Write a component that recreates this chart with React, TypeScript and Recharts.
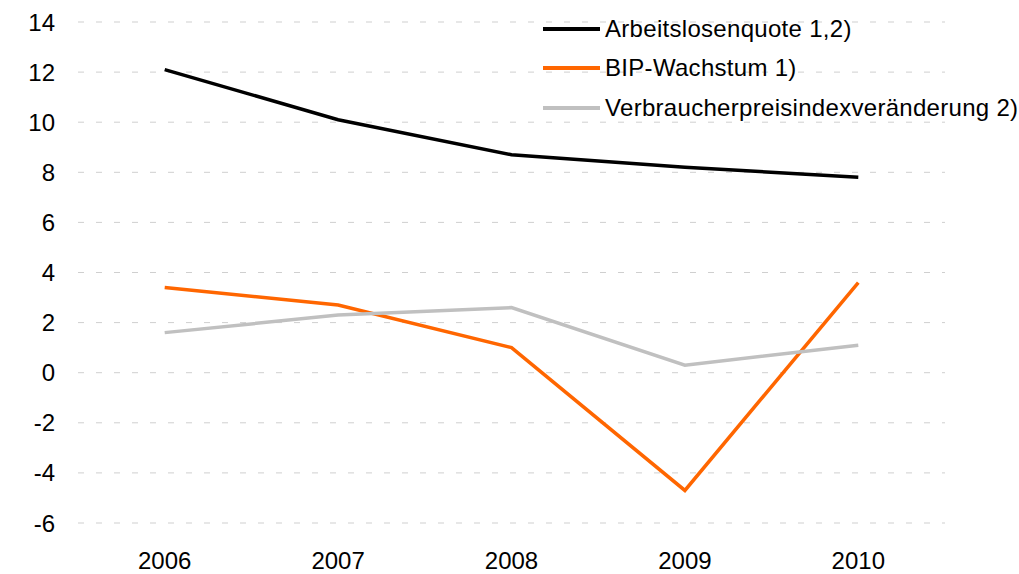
import React from 'react';
import {
  LineChart,
  Line,
  XAxis,
  YAxis,
  CartesianGrid,
  Legend,
} from 'recharts';

const years = ['2006', '2007', '2008', '2009', '2010'];
const arbeitslosenquote = [12.1, 10.1, 8.7, 8.2, 7.8];
const bipWachstum = [3.4, 2.7, 1.0, -4.7, 3.6];
const vpiVeraenderung = [1.6, 2.3, 2.6, 0.3, 1.1];
const yTicks = [-6, -4, -2, 0, 2, 4, 6, 8, 10, 12, 14];

const series = [
  { key: 'alq', name: 'Arbeitslosenquote 1,2)', color: '#000000' },
  { key: 'bip', name: 'BIP-Wachstum 1)', color: '#FF6600' },
  { key: 'vpi', name: 'Verbraucherpreisindexveränderung 2)', color: '#C0C0C0' },
];

const data = years.map((year, i) => ({
  year,
  alq: arbeitslosenquote[i],
  bip: bipWachstum[i],
  vpi: vpiVeraenderung[i],
}));

const FONT = '"Liberation Sans", Arial, sans-serif';

// legend drawn by hand: short thick line + label, stacked
function LegendBox({ payload }: any) {
  if (!payload) return null;
  return (
    <div style={{ fontFamily: FONT, fontSize: 24, color: '#000', letterSpacing: 0.3 }}>
      {payload.map((p: any) => (
        <div
          key={p.value}
          style={{ display: 'flex', alignItems: 'center', height: 39.5 }}
        >
          <div
            style={{
              width: 57,
              height: 4,
              background: p.color,
              marginRight: 5,
            }}
          />
          <span style={{ lineHeight: '24px', whiteSpace: 'nowrap' }}>{p.value}</span>
        </div>
      ))}
    </div>
  );
}

export default function App() {
  return (
    <div
      style={{
        position: 'absolute',
        left: 0,
        top: 0,
        width: 1019,
        height: 574,
        background: '#fff',
      }}
    >
      <LineChart
        width={1019}
        height={574}
        data={data}
        margin={{ top: 22, right: 74, left: 0, bottom: 0 }}
      >
        <CartesianGrid
          vertical={false}
          strokeDasharray="6 12"
          stroke="#cfcfcf"
          strokeWidth={1}
        />
        <XAxis
          dataKey="year"
          height={51}
          padding={{ left: 86.7, right: 86.7 }}
          axisLine={false}
          tickLine={false}
          tickSize={0}
          tickMargin={29}
          tick={{ fill: '#000', fontSize: 24, fontFamily: FONT }}
        />
        <YAxis
          width={78}
          domain={[-6, 14]}
          ticks={yTicks}
          interval={0}
          axisLine={false}
          tickLine={false}
          tickSize={0}
          tickMargin={23}
          tick={{ fill: '#000', fontSize: 24, fontFamily: FONT }}
        />
        <Legend
          layout="vertical"
          align="center"
          verticalAlign="middle"
          content={<LegendBox />}
          wrapperStyle={{ position: 'absolute', left: 543, top: 9, width: 476 }}
        />
        {series.map((s) => (
          <Line
            key={s.key}
            type="linear"
            dataKey={s.key}
            name={s.name}
            stroke={s.color}
            strokeWidth={3.5}
            dot={false}
            activeDot={false}
            isAnimationActive={false}
          />
        ))}
      </LineChart>
    </div>
  );
}
